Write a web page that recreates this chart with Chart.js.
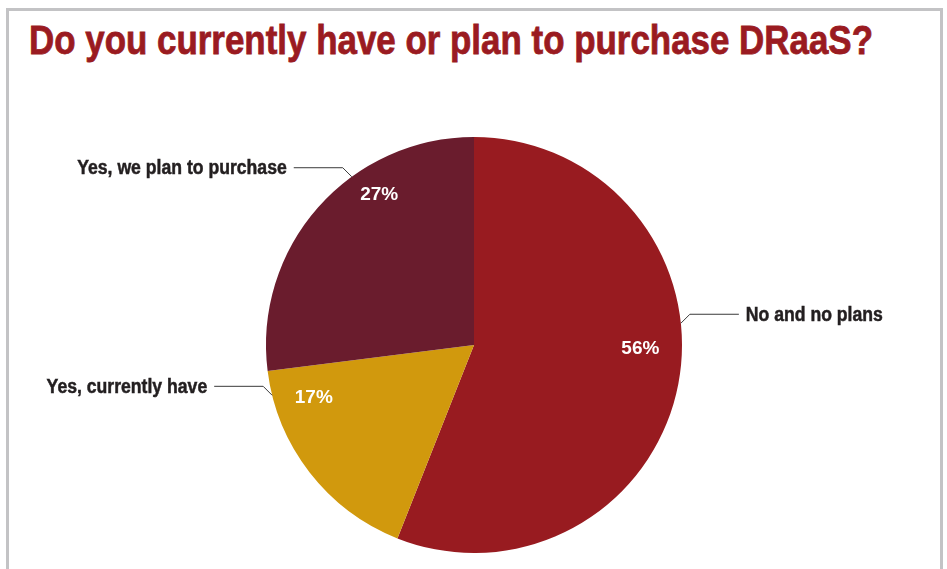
<!DOCTYPE html>
<html>
<head>
<meta charset="utf-8">
<script src="https://cdn.jsdelivr.net/npm/chart.js@4.4.1/dist/chart.umd.min.js"></script>
<style>
  html, body { margin: 0; padding: 0; background: #fff; }
  body { width: 947px; height: 569px; position: relative; overflow: hidden; }
  .frame {
    position: absolute; left: 6px; top: 8px; width: 937px; height: 600px;
    border: 3px solid #c3c3c5; box-sizing: border-box;
  }
  .title {
    position: absolute; left: 29px; top: 20px; margin: 0;
    font: bold 41px 'Liberation Sans', Arial, sans-serif;
    line-height: 40px; color: #9a1b21; white-space: nowrap;
    -webkit-text-stroke: 0.8px #9a1b21;
    transform-origin: 0 0;
  }
  .wrap { position: absolute; left: 0; top: 0; width: 947px; height: 569px; }
</style>
</head>
<body>
<div class="frame"></div>
<h1 class="title" id="title">Do you currently have or plan to purchase DRaaS?</h1>
<div class="wrap"><canvas id="chart"></canvas></div>
<script>
// answers, clockwise from 12 o'clock
const categories = ['No and no plans', 'Yes, currently have', 'Yes, we plan to purchase'];
const shares = [56, 17, 27];
const sliceColors = ['#981b20', '#d1990d', '#6a1c2d'];

// where the callouts and the percentages sit (degrees clockwise from top, radius fraction)
const leaderAngles = [84, 256, 324];
const valueSpots = [[91, 0.80], [252, 0.81], [328, 0.86]];

const labelFont = "bold 20px 'Liberation Sans', Arial, sans-serif";
const valueFont = "bold 19px 'Liberation Sans', Arial, sans-serif";

// squeeze the heading to the condensed width
(function () {
  const t = document.getElementById('title');
  const w = t.getBoundingClientRect().width;
  t.style.transform = 'scaleX(' + (844 / w) + ')';
})();

function polar(arc, deg, r) {
  const a = deg * Math.PI / 180;
  return { x: arc.x + r * Math.sin(a), y: arc.y - r * Math.cos(a) };
}

const calloutPlugin = {
  id: 'callouts',
  afterDatasetsDraw(chart) {
    const ctx = chart.ctx;
    const arcs = chart.getDatasetMeta(0).data;
    ctx.save();

    // condensed category labels: scale so "No and no plans" is 137px wide
    ctx.font = labelFont;
    const squeeze = Math.min(1, 137 / ctx.measureText(categories[0]).width);

    arcs.forEach((arc, i) => {
      const R = arc.outerRadius;
      const deg = leaderAngles[i];
      const side = Math.sin(deg * Math.PI / 180) >= 0 ? 1 : -1;
      const p0 = polar(arc, deg, R);
      const p1 = { x: p0.x + side * 9, y: p0.y - 9 };
      const p2 = { x: p1.x + side * 49, y: p1.y };

      ctx.strokeStyle = '#3a3a3a';
      ctx.lineWidth = 1;
      ctx.beginPath();
      ctx.moveTo(p0.x, p0.y);
      ctx.lineTo(p1.x, p1.y);
      ctx.lineTo(p2.x, p2.y);
      ctx.stroke();

      ctx.save();
      ctx.font = labelFont;
      ctx.fillStyle = '#231f20';
      ctx.strokeStyle = '#231f20';
      ctx.lineWidth = 0.5;
      ctx.textBaseline = 'middle';
      ctx.textAlign = side > 0 ? 'left' : 'right';
      ctx.translate(p2.x + side * 7, p2.y + 1);
      ctx.scale(squeeze, 1);
      ctx.fillText(categories[i], 0, 0);
      ctx.strokeText(categories[i], 0, 0);
      ctx.restore();

      const spot = valueSpots[i];
      const v = polar(arc, spot[0], R * spot[1]);
      ctx.font = valueFont;
      ctx.fillStyle = '#ffffff';
      ctx.textAlign = 'center';
      ctx.textBaseline = 'middle';
      ctx.fillText(shares[i] + '%', v.x, v.y + 1);
    });
    ctx.restore();
  }
};

new Chart(document.getElementById('chart'), {
  type: 'pie',
  data: {
    labels: categories,
    datasets: [{
      data: shares,
      backgroundColor: sliceColors,
      borderWidth: 0,
      hoverOffset: 0
    }]
  },
  options: {
    responsive: true,
    maintainAspectRatio: false,
    animation: false,
    layout: { padding: { top: 137, bottom: 16, left: 100, right: 99 } },
    plugins: {
      legend: { display: false },
      tooltip: { enabled: false }
    }
  },
  plugins: [calloutPlugin]
});
</script>
</body>
</html>
